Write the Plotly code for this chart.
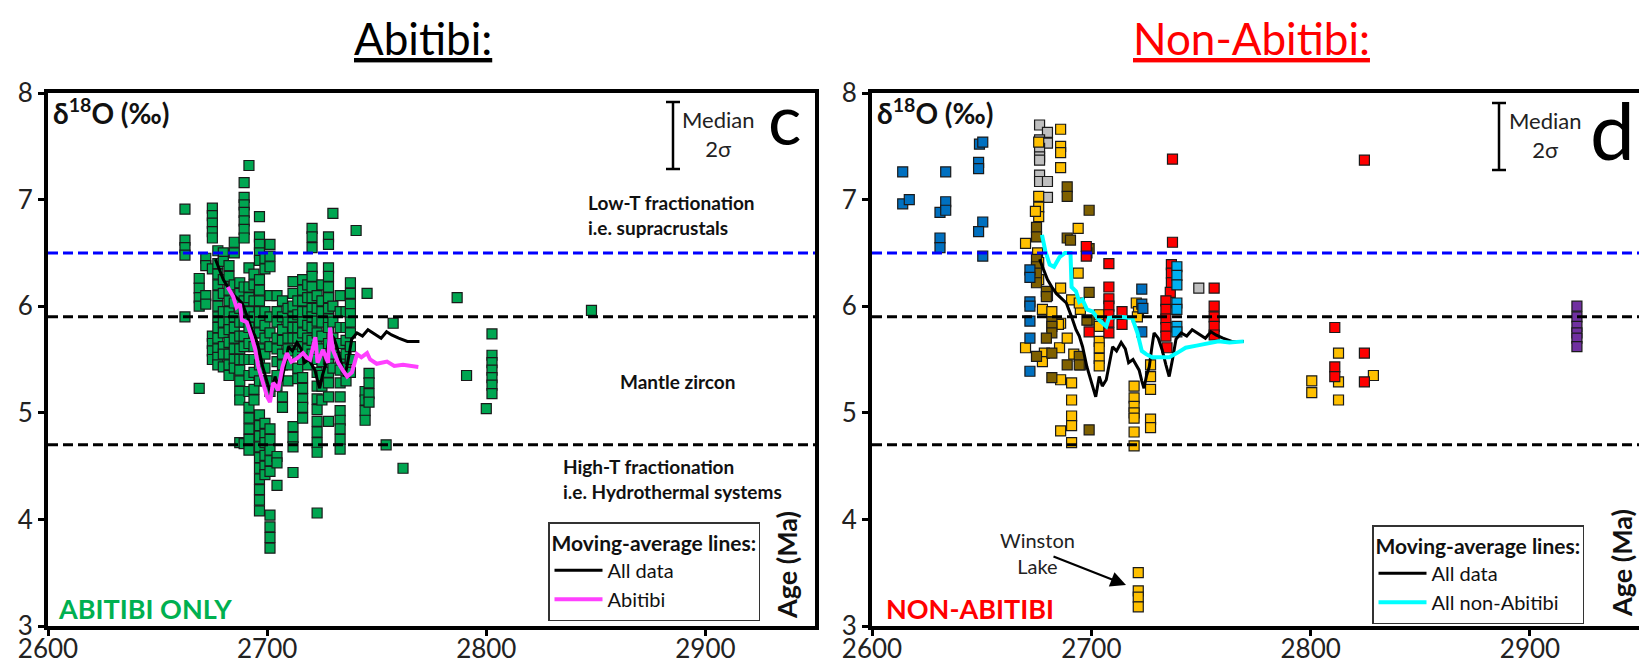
import plotly.graph_objects as go

# ---------------- DATA ----------------
# Left panel (Abitibi only): green zircon analyses, grouped by age column
green_col_age = [2662.5, 2669, 2672, 2675, 2677.5, 2680, 2682.6, 2685, 2687.5, 2689.5,
                 2691.7, 2694, 2696.5, 2699, 2701.3, 2704.5, 2707, 2709.5, 2711.8, 2714,
                 2716.2, 2718.5, 2720.5, 2722.8, 2725, 2728, 2730, 2733.3, 2736, 2738,
                 2740.6, 2744.7, 2745.6, 2746.5, 2754.3, 2757.5, 2762, 2786.7, 2791, 2800,
                 2802.6, 2848]
green_col_d18o = [
    [6.91, 6.62, 6.55, 6.48, 5.90],
    [6.26, 6.17, 6.08, 6.0, 5.23],
    [6.45, 6.38, 6.10, 6.02],
    [6.92, 6.85, 6.78, 6.70, 6.64, 6.35, 5.72, 5.65, 5.58, 5.5],
    [6.52, 6.4, 6.3, 6.2, 6.1, 6.0, 5.9, 5.8, 5.7, 5.6, 5.52, 5.45],
    [6.5, 6.42, 6.25, 6.12, 5.95, 5.85, 5.75, 5.62, 5.55, 5.43],
    [6.38, 6.28, 6.15, 6.05, 5.95, 5.85, 5.78, 5.66, 5.55, 5.45, 5.35],
    [6.6, 6.5, 6.2, 6.03, 5.9, 5.8, 5.7, 5.6, 5.5, 5.42],
    [6.22, 6.12, 5.98, 5.85, 5.72, 5.6, 5.5, 5.4, 5.3, 5.2, 5.12, 4.72],
    [7.16, 7.02, 6.95, 6.88, 6.8, 6.72, 6.64, 6.18, 6.05, 5.95, 5.85, 5.72, 5.62, 5.5, 4.71],
    [7.32, 6.36, 6.18, 6.08, 5.95, 5.8, 5.65, 5.5, 5.35, 5.2, 5.05, 4.95, 4.85, 4.75, 4.65],
    [6.3, 6.2, 6.05, 5.9, 5.75, 5.62, 5.5, 5.38, 5.22, 5.12],
    [6.84, 6.65, 6.58, 6.5, 6.43, 6.25, 6.15, 6.05, 5.95, 5.85, 5.75, 5.6, 5.45, 5.3, 4.98,
     4.88, 4.78, 4.68, 4.58, 4.48, 4.38, 4.28, 4.18, 4.08],
    [6.45, 6.35, 5.95, 5.82, 5.7, 5.55, 5.42, 5.3, 4.9, 4.8, 4.72, 4.6, 4.5, 4.42],
    [6.58, 6.47, 6.37, 6.1, 5.9, 5.75, 5.62, 5.3, 5.2, 4.85, 4.75, 4.65, 4.55, 4.45, 4.04,
     3.93, 3.83, 3.73],
    [6.1, 5.95, 5.85, 5.7, 5.6, 5.48, 5.35, 5.25, 4.59, 4.53, 4.32],
    [6.05, 5.9, 5.78, 5.68, 5.55, 5.45, 5.15, 5.05],
    [5.98, 5.85, 5.7, 5.6, 5.45, 5.3],
    [6.23, 6.12, 6.0, 5.9, 5.8, 5.7, 5.58, 4.87, 4.77, 4.68, 4.44],
    [6.05, 5.92, 5.8, 5.7, 5.55, 5.42, 5.32],
    [6.25, 6.15, 6.05, 5.95, 5.85, 5.75, 5.62, 5.5, 5.33, 5.23, 5.13, 5.05, 4.95],
    [6.2, 6.08, 5.95, 5.82, 5.7, 5.6, 5.45],
    [6.73, 6.65, 6.55, 6.36, 6.28, 6.18, 6.08, 5.98, 5.9, 5.8, 5.68, 5.55],
    [6.1, 5.98, 5.86, 5.75, 5.62, 5.5, 5.38, 5.25, 5.13, 5.03, 4.92, 4.82, 4.72, 4.63, 4.06],
    [6.2, 6.05, 5.95, 5.85, 5.72, 5.6, 5.48, 5.35, 5.25, 5.12],
    [6.65, 6.58, 6.36, 6.28, 6.18, 6.08, 5.98, 5.88, 5.8, 5.65, 5.5, 5.38, 5.28, 5.15, 4.92],
    [6.87, 6.0, 5.85, 5.7, 5.55, 5.42],
    [6.1, 5.95, 5.8, 5.65, 5.52, 5.4, 5.28, 5.15, 5.02, 4.93, 4.85, 4.75, 4.66],
    [5.95, 5.8, 5.68, 5.55, 5.42, 5.3],
    [6.22, 6.12, 6.02, 5.93, 5.85, 5.75, 5.62, 5.5, 5.38],
    [6.71],
    [5.2, 5.12, 5.02, 4.93],
    [6.12],
    [5.37, 5.28, 5.18, 5.1],
    [4.7],
    [5.84],
    [4.48],
    [6.08],
    [5.35],
    [5.04],
    [5.74, 5.54, 5.47, 5.4, 5.33, 5.26, 5.18],
    [5.96],
]

# Right panel (non-Abitibi) groups
grey_age = [2676.4, 2680, 2676.4, 2680, 2676.4, 2676.4, 2676.4, 2676.4, 2676.4, 2680, 2680, 2749]
grey_d18o = [7.7, 7.63, 7.56, 7.53, 7.48, 7.4, 7.37, 7.23, 7.17, 7.17, 7.02, 6.17]

gold_age = [2686, 2686, 2686, 2686, 2676, 2676, 2676, 2676, 2674.5, 2694, 2670, 2675.5, 2676,
            2694, 2686, 2677.7, 2686, 2691, 2695, 2720.5, 2721.5, 2721, 2703.6, 2703.6, 2703.6,
            2703.6, 2703.6, 2703.6, 2670, 2678.6, 2685.5, 2677.7, 2685, 2694.5, 2686, 2691,
            2691, 2691, 2691, 2691, 2686, 2719.5, 2719.5, 2719.5, 2719.5, 2719.5, 2719.5,
            2719.5, 2727, 2727, 2727, 2727, 2727, 2721.4, 2721.4, 2721.4, 2721.4, 2812.7,
            2812.7, 2812.7, 2800.5, 2800.5, 2828.6, 2676, 2680, 2682, 2689, 2692, 2695]
gold_d18o = [7.66, 7.5, 7.44, 7.3, 7.54, 7.03, 6.93, 6.84, 6.89, 6.73, 6.59, 6.5, 6.41,
             6.31, 6.17, 5.97, 5.84, 6.06, 5.97, 6.03, 5.95, 5.9, 5.92, 5.81, 5.67,
             5.61, 5.51, 5.44, 5.61, 5.56, 5.61, 5.48, 5.83, 6.03, 5.31, 5.28,
             5.12, 4.97, 4.88, 4.72, 4.83, 5.25, 5.14, 5.06, 5.0, 4.95, 4.82,
             4.69, 5.45, 5.34, 5.22, 4.94, 4.86, 3.5, 3.33, 3.27, 3.18, 5.56,
             5.29, 5.12, 5.3, 5.19, 5.35, 6.25, 6.1, 5.95, 5.7, 5.55, 5.45]

olive_age = [2689, 2689, 2699, 2689, 2690.5, 2699, 2698, 2675, 2675, 2675, 2675, 2675, 2675,
             2679.5, 2679.5, 2699, 2682, 2699, 2682, 2682, 2679.5, 2675, 2682, 2689, 2694.5,
             2694.5, 2682, 2699, 2698]
olive_d18o = [7.12, 7.03, 6.9, 6.64, 6.62, 6.54, 6.5, 6.74, 6.65, 6.44, 6.37, 6.31, 6.22,
              6.14, 6.09, 6.13, 5.85, 5.87, 5.81, 5.75, 5.7, 5.53, 5.56, 5.45, 5.53,
              5.45, 5.33, 4.84, 5.87]

blue_age = [2614, 2614, 2617, 2633.6, 2631, 2633.6, 2633.6, 2631, 2631, 2649, 2650.5, 2648.6,
            2648.6, 2650.5, 2648.6, 2650.5, 2672, 2672, 2672, 2672, 2672, 2672, 2672, 2723,
            2723, 2723.5, 2723]
blue_d18o = [7.26, 6.96, 7.0, 7.26, 6.88, 6.98, 6.9, 6.64, 6.55, 7.52, 7.54, 7.35,
             7.29, 6.79, 6.7, 6.47, 6.34, 6.27, 6.04, 6.0, 5.86, 5.7, 5.39, 6.16,
             6.02, 5.98, 5.76]

red_age = [2737, 2737, 2736.5, 2736.5, 2736.5, 2736, 2734, 2734, 2734, 2734, 2734, 2734.5,
           2708, 2708, 2708, 2708, 2708, 2708, 2708, 2714, 2714, 2697.7, 2697.7, 2699,
           2756, 2756, 2756, 2756, 2756, 2811, 2811, 2811, 2824.5, 2824.5, 2824.5]
red_d18o = [7.38, 6.6, 6.39, 6.31, 6.22, 6.13, 6.05, 5.97, 5.88, 5.8, 5.72, 5.61,
            6.4, 6.18, 6.07, 6.0, 5.92, 5.85, 5.75, 5.95, 5.83, 6.56, 6.47, 5.76,
            6.17, 6.0, 5.9, 5.81, 5.73, 5.8, 5.43, 5.34, 7.37, 5.56, 5.29]

sky_age = [2739, 2739, 2739, 2739, 2739, 2739, 2739]
sky_d18o = [6.37, 6.29, 6.2, 6.03, 5.97, 5.81, 5.76]

purple_age = [2921.4, 2921.4, 2921.4, 2921.4, 2921.4, 2921.4]
purple_d18o = [6.0, 5.9, 5.81, 5.75, 5.7, 5.62]

# Moving-average lines
ma_all_age = [2676.4, 2678, 2680, 2682, 2684, 2686, 2688.6, 2691, 2693, 2694.5, 2696, 2698,
              2700, 2702, 2703.6, 2705, 2706.8, 2708, 2709.7, 2711.5, 2713.6, 2715.5, 2717,
              2719, 2721.8, 2723, 2724, 2725.2, 2726.4, 2727.5, 2728.6, 2730.5, 2732.3, 2734,
              2735.5, 2737, 2738.6, 2741, 2743.5, 2746, 2749, 2752, 2754.5, 2756.8, 2760,
              2764, 2769.5]
ma_all_d18o = [6.44, 6.35, 6.25, 6.18, 6.12, 6.08, 6.03, 5.9, 5.78, 5.72, 5.62, 5.43,
               5.3, 5.15, 5.34, 5.25, 5.31, 5.45, 5.62, 5.58, 5.66, 5.6, 5.47,
               5.5, 5.4, 5.3, 5.23, 5.35, 5.43, 5.6, 5.75, 5.7, 5.59, 5.45,
               5.34, 5.5, 5.69, 5.75, 5.72, 5.78, 5.74, 5.7, 5.76, 5.73, 5.7,
               5.67, 5.67]

ma_abi_age = [2682, 2683, 2684.5, 2686, 2687.6, 2688.5, 2690.7, 2693, 2694.5, 2696, 2698,
              2700, 2701.3, 2702.7, 2704, 2705, 2707, 2709, 2711, 2713.6, 2716.4, 2718,
              2719.6, 2722, 2723, 2725.5, 2727.8, 2728.7, 2730, 2732.4, 2734.5, 2736.5,
              2738.7, 2741, 2743, 2745.6, 2747, 2750, 2754.7, 2758, 2762, 2769]
ma_abi_d18o = [6.18, 6.15, 6.09, 5.99, 6.02, 5.87, 5.85, 5.71, 5.6, 5.43, 5.28,
               5.15, 5.1, 5.28, 5.25, 5.21, 5.43, 5.56, 5.48, 5.51, 5.56, 5.52,
               5.5, 5.71, 5.47, 5.59, 5.47, 5.8, 5.59, 5.47, 5.4, 5.34,
               5.38, 5.55, 5.52, 5.56, 5.5, 5.46, 5.48, 5.44, 5.45, 5.43]

ma_non_age = [2677.5, 2679, 2681, 2683, 2685.5, 2688, 2690.5, 2691, 2693, 2694.5, 2696, 2698,
              2700.5, 2703.6, 2706.8, 2708, 2713, 2718.6, 2721, 2723, 2725, 2727.7, 2731,
              2735.5, 2739, 2743, 2748, 2753, 2758, 2763, 2769.5]
ma_non_d18o = [6.67, 6.52, 6.39, 6.37, 6.46, 6.5, 6.5, 6.18, 6.14, 6.04, 6.06, 5.97,
               5.95, 5.87, 5.81, 5.89, 5.9, 5.89, 5.75, 5.58, 5.55, 5.52, 5.52,
               5.52, 5.56, 5.61, 5.63, 5.65, 5.67, 5.66, 5.67]

# Reference levels
low_t_level = 6.5
mantle_upper = 5.9
mantle_lower = 4.7

x_ticks = [2600, 2700, 2800, 2900]
y_ticks = [3, 4, 5, 6, 7, 8]

# ---------------- FIGURE ----------------
W, H = 1639, 665
FONT = "Lato"


def px(x):
    return x / W


def py(y):
    return 1 - y / H


green_age = [a for a, ys in zip(green_col_age, green_col_d18o) for _ in ys]
green_d18o = [v for ys in green_col_d18o for v in ys]

fig = go.Figure()


def marker_trace(xs, ys, color, xa, ya):
    return go.Scatter(x=xs, y=ys, mode="markers", xaxis=xa, yaxis=ya, showlegend=False,
                      marker=dict(symbol="square", size=10, color=color,
                                  line=dict(color="#1a1a1a", width=1.2)),
                      hoverinfo="x+y")


fig.add_trace(marker_trace(green_age, green_d18o, "#00A651", "x", "y"))
fig.add_trace(go.Scatter(x=ma_all_age, y=ma_all_d18o, mode="lines", xaxis="x", yaxis="y",
                         name="All data", legend="legend",
                         line=dict(color="black", width=3)))
fig.add_trace(go.Scatter(x=ma_abi_age, y=ma_abi_d18o, mode="lines", xaxis="x", yaxis="y",
                         name="Abitibi", legend="legend",
                         line=dict(color="#FF40FF", width=4)))

for xs, ys, c in [(grey_age, grey_d18o, "#BFBFBF"), (gold_age, gold_d18o, "#FFC000"),
                  (olive_age, olive_d18o, "#7F6000"), (blue_age, blue_d18o, "#0070C0"),
                  (red_age, red_d18o, "#FF0000"), (sky_age, sky_d18o, "#00B0F0"),
                  (purple_age, purple_d18o, "#7030A0")]:
    fig.add_trace(marker_trace(xs, ys, c, "x2", "y2"))

fig.add_trace(go.Scatter(x=ma_all_age, y=ma_all_d18o, mode="lines", xaxis="x2", yaxis="y2",
                         name="All data", legend="legend2",
                         line=dict(color="black", width=3)))
fig.add_trace(go.Scatter(x=ma_non_age, y=ma_non_d18o, mode="lines", xaxis="x2", yaxis="y2",
                         name="All non-Abitibi", legend="legend2",
                         line=dict(color="#00FFFF", width=4)))

x_dom_l = [px(48), px(815)]
x_dom_r = [px(872), 1.0]
y_dom = [py(626), py(93)]

axis_common = dict(showline=True, linewidth=4, linecolor="black", ticks="outside",
                   ticklen=6, tickwidth=3, tickcolor="black", showgrid=False, zeroline=False,
                   automargin=False,
                   tickfont=dict(family=FONT, size=26, color="#222"))

legend_common = dict(xanchor="left", yanchor="top", bgcolor="white", bordercolor="#333",
                     borderwidth=1.5, font=dict(family=FONT, size=20, color="#111"),
                     title=dict(text="<b>Moving-average lines:</b>",
                                font=dict(family=FONT, size=21, color="#111")),
                     itemwidth=48, tracegroupgap=0)

fig.update_layout(
    width=W, height=H, margin=dict(l=0, r=0, t=0, b=0, autoexpand=False),
    paper_bgcolor="white", plot_bgcolor="white",
    xaxis=dict(domain=x_dom_l, range=[2600, 2950], tickvals=x_ticks, mirror=True,
               anchor="y", ticklabelstandoff=-9, **axis_common),
    yaxis=dict(domain=y_dom, range=[3, 8], tickvals=y_ticks, mirror=True, anchor="x",
               **axis_common),
    xaxis2=dict(domain=x_dom_r, range=[2600, 2949.7], tickvals=x_ticks, mirror=True,
                anchor="y2", ticklabelstandoff=-9, **axis_common),
    yaxis2=dict(domain=y_dom, range=[3, 8], tickvals=y_ticks, mirror=False, anchor="x2",
                **axis_common),
    legend=dict(x=px(548), y=py(522), **legend_common),
    legend2=dict(x=px(1372), y=py(525), **legend_common),
    showlegend=True,
)

# Reference dashed lines
shapes = []
for xr, yr in [("x domain", "y"), ("x2 domain", "y2")]:
    shapes.append(dict(type="line", xref=xr, yref=yr, x0=0, x1=1, y0=low_t_level, y1=low_t_level,
                       line=dict(color="#0000FF", width=3, dash="10px,5px"), layer="above"))
    for lvl in (mantle_upper, mantle_lower):
        shapes.append(dict(type="line", xref=xr, yref=yr, x0=0, x1=1, y0=lvl, y1=lvl,
                           line=dict(color="black", width=3, dash="10px,5px"), layer="above"))

# Median 2-sigma error bars
for xc, y0, y1 in [(673, 102, 169), (1499, 103, 170)]:
    shapes.append(dict(type="line", xref="paper", yref="paper", x0=px(xc), x1=px(xc),
                       y0=py(y0), y1=py(y1), line=dict(color="black", width=2.5)))
    for yy in (y0, y1):
        shapes.append(dict(type="line", xref="paper", yref="paper", x0=px(xc - 7),
                           x1=px(xc + 7), y0=py(yy), y1=py(yy),
                           line=dict(color="black", width=2.5)))
fig.update_layout(shapes=shapes)

ann = []


def text(x, y, s, size, color="#111", xanchor="center", yanchor="middle", bold=False,
         angle=0, align="center", family=FONT):
    ann.append(dict(x=px(x), y=py(y), xref="paper", yref="paper", text=s, showarrow=False,
                    xanchor=xanchor, yanchor=yanchor, textangle=angle, align=align,
                    font=dict(family=family, size=size, color=color,
                              weight="bold" if bold else "normal")))


# Titles
text(423, 38, "<u>Abitibi:</u>", 44, color="black")
text(1251, 38, "<u>Non-Abitibi:</u>", 44, color="#FF0000")

# Axis labels
for xl in (51, 875):
    text(xl, 112, "δ<sup>18</sup>O (‰)", 28, bold=True, xanchor="left")
text(786, 565, "Age (Ma)", 27, bold=True, angle=-90)
text(1621, 563, "Age (Ma)", 27, bold=True, angle=-90)

# Median labels and panel letters
text(718, 134, "Median<br>2σ", 22, color="#222")
text(1545, 135, "Median<br>2σ", 22, color="#222")
text(766, 118, "c", 70, color="black", xanchor="left")
text(1588, 129, "d", 80, color="black", xanchor="left")

# Region labels (left panel)
text(586, 215, "Low-T fractionation<br>i.e. supracrustals", 19, bold=True, xanchor="left",
     align="left")
text(677, 382, "Mantle zircon", 19, bold=True)
text(561, 479, "High-T fractionation<br>i.e. Hydrothermal systems", 19, bold=True,
     xanchor="left", align="left")

# Panel tags
text(56, 608, "ABITIBI ONLY", 27, color="#00B050", bold=True, xanchor="left")
text(884, 608, "NON-ABITIBI", 27, color="#FF0000", bold=True, xanchor="left")

# Winston Lake
text(1037, 553, "Winston<br>Lake", 20, color="#222")
ann.append(dict(x=px(1126), y=py(585), xref="paper", yref="paper", ax=1052 - 1126,
                ay=556 - 585, axref="pixel", ayref="pixel", text="", showarrow=True,
                arrowhead=2, arrowsize=1.4, arrowwidth=2.2, arrowcolor="black"))

fig.update_layout(annotations=ann)

fig.write_html("out.html")
